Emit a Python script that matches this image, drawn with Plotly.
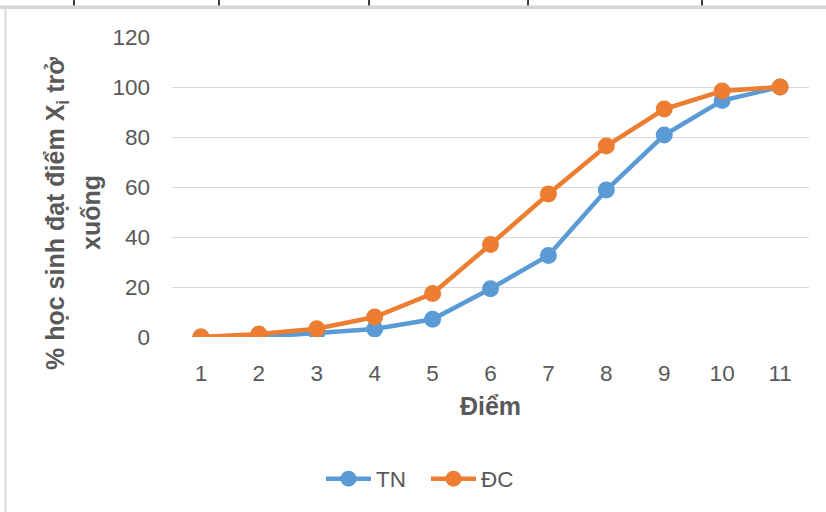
import plotly.graph_objects as go

diem = [1, 2, 3, 4, 5, 6, 7, 8, 9, 10, 11]
tn = [0, 0, 1.6, 3.2, 7.1, 19.3, 32.6, 58.8, 80.8, 94.6, 100]
dc = [0, 1.2, 3.3, 8.0, 17.4, 37.0, 57.2, 76.4, 91.2, 98.4, 100]
y_ticks = [0, 20, 40, 60, 80, 100, 120]
series_names = ["TN", "ĐC"]
y_title_1 = "% học sinh đạt điểm X<sub>i</sub> trở"
y_title_2 = "xuống"
x_title = "Điểm"

BLUE = "#5B9BD5"
ORANGE = "#ED7D31"
TXT = "#595959"
FONT = "Liberation Sans, Arial, sans-serif"
TICK_SIZE = 22.5
TITLE_SIZE = 25

W, H = 826, 512
L, R, T, B = 172, 809, 37, 337

def px(x):
    return (x - L) / (R - L)

def py(y):
    return (B - y) / (B - T)

fig = go.Figure()
fig.add_trace(go.Scatter(x=diem, y=tn, name=series_names[0], mode="lines+markers",
                         line=dict(color=BLUE, width=4.5),
                         marker=dict(color=BLUE, size=17)))
fig.add_trace(go.Scatter(x=diem, y=dc, name=series_names[1], mode="lines+markers",
                         line=dict(color=ORANGE, width=4.5),
                         marker=dict(color=ORANGE, size=17)))

shapes = []
# document decorations: top border band (as short segments), left border, table ticks
seg_edges = list(range(0, 827, 59))
if seg_edges[-1] != 826:
    seg_edges.append(826)
for xa, xb in zip(seg_edges[:-1], seg_edges[1:]):
    shapes.append(dict(type="rect", xref="paper", yref="paper", x0=px(xa), x1=px(xb + 0.5),
                       y0=py(9), y1=py(5.5), fillcolor="#D6D6D6",
                       line=dict(width=0), layer="above"))
shapes.append(dict(type="line", xref="paper", yref="paper", x0=px(5.5), x1=px(5.5),
                   y0=py(512), y1=py(7), line=dict(color="#D9D9D9", width=2)))
for tx in [74, 219, 369, 528, 702]:
    shapes.append(dict(type="line", xref="paper", yref="paper", x0=px(tx), x1=px(tx),
                       y0=py(0), y1=py(5.5), line=dict(color="#000000", width=1.5)))

annotations = [
    dict(text=y_title_1, xref="paper", yref="paper", x=px(57), y=py(214),
         xanchor="center", yanchor="middle", textangle=-90, showarrow=False,
         font=dict(family=FONT, size=TITLE_SIZE, color=TXT, weight="bold")),
    dict(text=y_title_2, xref="paper", yref="paper", x=px(91), y=py(213),
         xanchor="center", yanchor="middle", textangle=-90, showarrow=False,
         font=dict(family=FONT, size=TITLE_SIZE, color=TXT, weight="bold")),
]

fig.update_layout(
    width=W, height=H,
    margin=dict(l=L, r=W - R, t=T, b=H - B, pad=0),
    paper_bgcolor="white", plot_bgcolor="white",
    font=dict(family=FONT, size=TICK_SIZE, color=TXT),
    shapes=shapes, annotations=annotations,
    showlegend=True,
    legend=dict(orientation="h", x=px(426), y=py(479), xanchor="center", yanchor="middle",
                font=dict(family=FONT, size=TICK_SIZE, color=TXT), itemwidth=45,
                entrywidth=45, entrywidthmode="pixels",
                bgcolor="rgba(0,0,0,0)"),
    xaxis=dict(range=[0.5, 11.5], tickvals=diem, ticktext=[str(d) for d in diem],
               showgrid=False, zeroline=False, showline=False, ticks="",
               ticklabelstandoff=20, tickfont=dict(family=FONT, size=TICK_SIZE, color=TXT),
               title=dict(text=x_title, standoff=12,
                          font=dict(family=FONT, size=TITLE_SIZE, color=TXT, weight="bold"))),
    yaxis=dict(range=[0, 120], tickvals=y_ticks, showgrid=True, gridcolor="#D9D9D9",
               gridwidth=1.3, zeroline=False, showline=False, ticks="",
               ticklabelstandoff=21, tickfont=dict(family=FONT, size=TICK_SIZE, color=TXT)),
)

fig.write_html("out.html", config={"displayModeBar": False},
               post_script="document.body.style.margin='0';")
